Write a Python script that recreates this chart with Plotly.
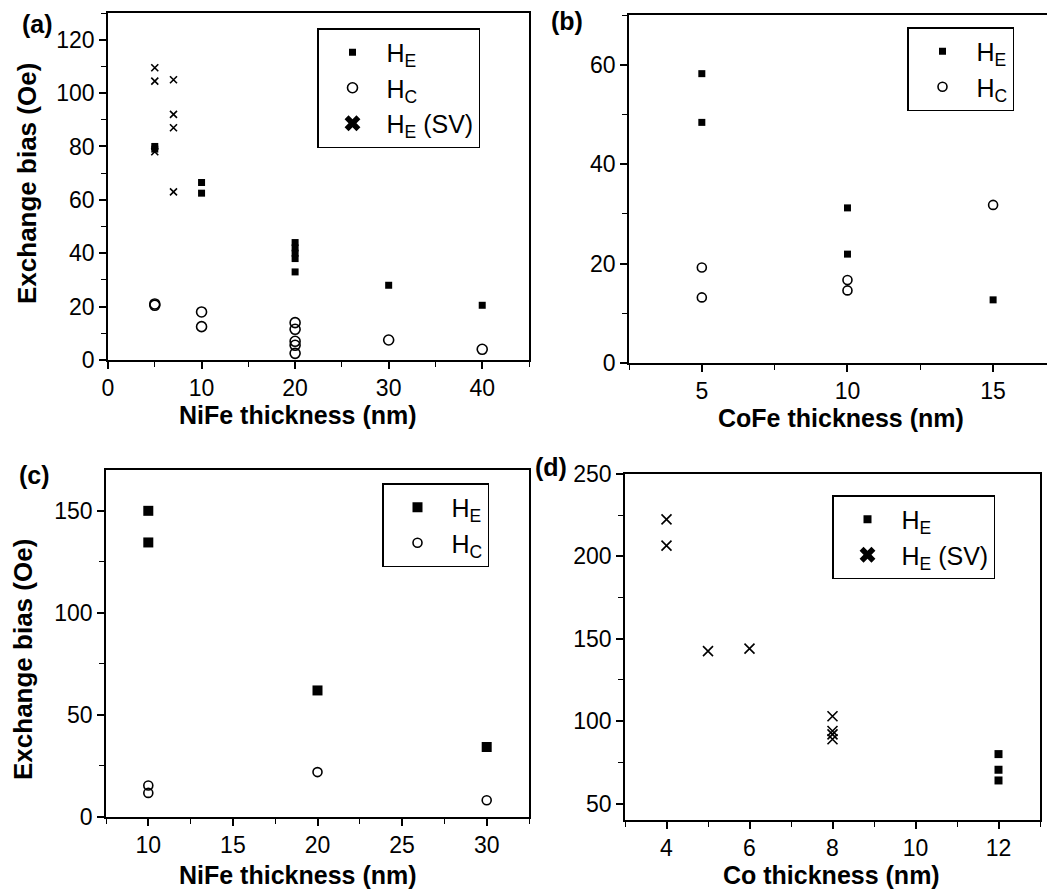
import plotly.graph_objects as go

# ---------------- data ----------------
# panel (a)
a_x_he = [5, 5, 10, 10, 20, 20, 20, 20, 20, 30, 40]
a_he = [80, 79, 66.5, 62.5, 44, 42, 40, 38, 33, 28, 20.5]
a_x_hc = [5, 5, 10, 10, 20, 20, 20, 20, 20, 30, 40]
a_hc = [20.5, 21, 18, 12.5, 14, 11.5, 7, 5.5, 2.5, 7.5, 4]
a_x_sv = [5, 5, 5, 7, 7, 7, 7]
a_sv = [109.5, 104.5, 78, 105, 92, 87, 63]
# panel (b)
b_x_he = [5, 5, 10, 10, 15]
b_he = [58.2, 48.4, 31.2, 21.9, 12.7]
b_x_hc = [5, 5, 10, 10, 15]
b_hc = [19.2, 13.2, 16.7, 14.6, 31.8]
# panel (c)
c_x_he = [10, 10, 20, 30]
c_he = [150, 134.5, 62, 34.3]
c_x_hc = [10, 10, 20, 30]
c_hc = [15.4, 11.8, 22, 8.2]
# panel (d)
d_x_he = [12, 12, 12]
d_he = [80, 70.5, 64]
d_x_sv = [4, 4, 5, 6, 8, 8, 8, 8]
d_sv = [222.5, 206.5, 142.5, 144, 103, 94, 92, 89]

x_titles = ["NiFe thickness (nm)", "CoFe thickness (nm)", "NiFe thickness (nm)", "Co thickness (nm)"]
y_title = "Exchange bias (Oe)"
panel_labels = ["(a)", "(b)", "(c)", "(d)"]
lbl_he = "H<sub>E</sub>"
lbl_hc = "H<sub>C</sub>"
lbl_sv = "H<sub>E</sub> (SV)"

FONT = "Arial, Liberation Sans, sans-serif"
W, H = 1047, 894

fig = go.Figure()


def sq(x, y, xa, ya, size, legend, name, show=True):
    fig.add_trace(go.Scatter(x=x, y=y, xaxis=xa, yaxis=ya, mode="markers", name=name,
                             legend=legend, showlegend=show,
                             marker=dict(symbol="square", size=size, color="black",
                                         line=dict(width=0))))


def circ(x, y, xa, ya, size, legend, name):
    fig.add_trace(go.Scatter(x=x, y=y, xaxis=xa, yaxis=ya, mode="markers", name=name,
                             legend=legend,
                             marker=dict(symbol="circle-open", size=size, color="black",
                                         line=dict(width=1.6, color="black"))))


def cross(x, y, xa, ya, size, legend, name, lsize):
    fig.add_trace(go.Scatter(x=x, y=y, xaxis=xa, yaxis=ya, mode="markers", name=name,
                             legend=legend, showlegend=False,
                             marker=dict(symbol="x-thin-open", size=size, color="black",
                                         line=dict(width=1.6, color="black"))))
    # legend entry (bold X symbol)
    fig.add_trace(go.Scatter(x=[None], y=[None], xaxis=xa, yaxis=ya, mode="markers",
                             name=name, legend=legend,
                             marker=dict(symbol="x", size=lsize, color="black",
                                         line=dict(width=0))))


# (a)
sq(a_x_he, a_he, "x", "y", 7, "legend", lbl_he)
circ(a_x_hc, a_hc, "x", "y", 10, "legend", lbl_hc)
cross(a_x_sv, a_sv, "x", "y", 7, "legend", lbl_sv, 14)
# (b)
sq(b_x_he, b_he, "x2", "y2", 7, "legend2", lbl_he)
circ(b_x_hc, b_hc, "x2", "y2", 9, "legend2", lbl_hc)
# (c)
sq(c_x_he, c_he, "x3", "y3", 10, "legend3", lbl_he)
circ(c_x_hc, c_hc, "x3", "y3", 9, "legend3", lbl_hc)
# (d)
sq(d_x_he, d_he, "x4", "y4", 8, "legend4", lbl_he)
cross(d_x_sv, d_sv, "x4", "y4", 10, "legend4", lbl_sv, 14)


def px_x(p):
    return p / W


def px_y(p):
    return 1 - p / H


def axis(domain, rng, dtick, minor_dtick, tick0=None, mirror=True):
    d = dict(domain=domain, range=rng, showline=True, linecolor="black", linewidth=1.5,
             mirror=mirror, ticks="outside", ticklen=7, tickwidth=1.5, tickcolor="black",
             showgrid=False, zeroline=False, dtick=dtick, automargin=False,
             tickfont=dict(family=FONT, size=23, color="black"),
             minor=dict(ticks="outside", ticklen=5, tickwidth=1.3, tickcolor="black",
                        dtick=minor_dtick, showgrid=False))
    if tick0 is not None:
        d["tick0"] = tick0
        d["minor"]["tick0"] = tick0
    return d


layout = dict(
    width=W, height=H, margin=dict(l=0, r=0, t=0, b=0, autoexpand=False),
    paper_bgcolor="white", plot_bgcolor="white",
    font=dict(family=FONT, color="black"),
    xaxis=axis([px_x(108), px_x(529)], [0, 45], 10, 5),
    yaxis=axis([px_y(360), px_y(13)], [0, 130], 20, 10),
    xaxis2=axis([px_x(629), 1.0], [2.5, 16.85], 5, 2.5),
    yaxis2=axis([px_y(363), px_y(15)], [0, 70], 20, 10, mirror=False),
    xaxis3=axis([px_x(106), px_x(529)], [7.5, 32.5], 5, 2.5),
    yaxis3=axis([px_y(817), px_y(470)], [0, 170], 50, 25),
    xaxis4=axis([px_x(625), px_x(1040)], [3, 13], 2, 1),
    yaxis4=axis([px_y(820), px_y(474)], [40, 250], 50, 25, tick0=0),
)
layout["yaxis2"]["anchor"] = "x2"
layout["xaxis2"]["anchor"] = "y2"
layout["yaxis3"]["anchor"] = "x3"
layout["xaxis3"]["anchor"] = "y3"
layout["yaxis4"]["anchor"] = "x4"
layout["xaxis4"]["anchor"] = "y4"


def leg(x, y):
    return dict(x=px_x(x), y=px_y(y), xanchor="left", yanchor="top",
                bordercolor="black", borderwidth=1.5, bgcolor="white",
                font=dict(family=FONT, size=25, color="black"),
                itemwidth=58, tracegroupgap=0)


layout["legend"] = leg(317, 28)
layout["legend2"] = leg(907, 27)
layout["legend3"] = leg(382, 483)
layout["legend4"] = leg(832, 495)

ann = []
# panel labels
for t, (px, py) in zip(panel_labels, [(37, 24), (567, 21), (34, 475), (551, 467)]):
    ann.append(dict(text="<b>%s</b>" % t, x=px_x(px), y=px_y(py), xref="paper", yref="paper",
                    showarrow=False, xanchor="center", yanchor="middle",
                    font=dict(family=FONT, size=25, color="black")))
# x-axis titles
for t, (px, py) in zip(x_titles, [(298, 415), (841, 418), (298, 875), (831, 875)]):
    ann.append(dict(text="<b>%s</b>" % t, x=px_x(px), y=px_y(py), xref="paper", yref="paper",
                    showarrow=False, xanchor="center", yanchor="middle",
                    font=dict(family=FONT, size=25, color="black")))
# y-axis titles (panels a and c)
for (px, py) in [(27, 184), (23, 660)]:
    ann.append(dict(text="<b>%s</b>" % y_title, x=px_x(px), y=px_y(py), xref="paper",
                    yref="paper", showarrow=False, xanchor="center", yanchor="middle",
                    textangle=-90, font=dict(family=FONT, size=26, color="black")))
layout["annotations"] = ann

fig.update_layout(**layout)
fig.write_html("out.html")
